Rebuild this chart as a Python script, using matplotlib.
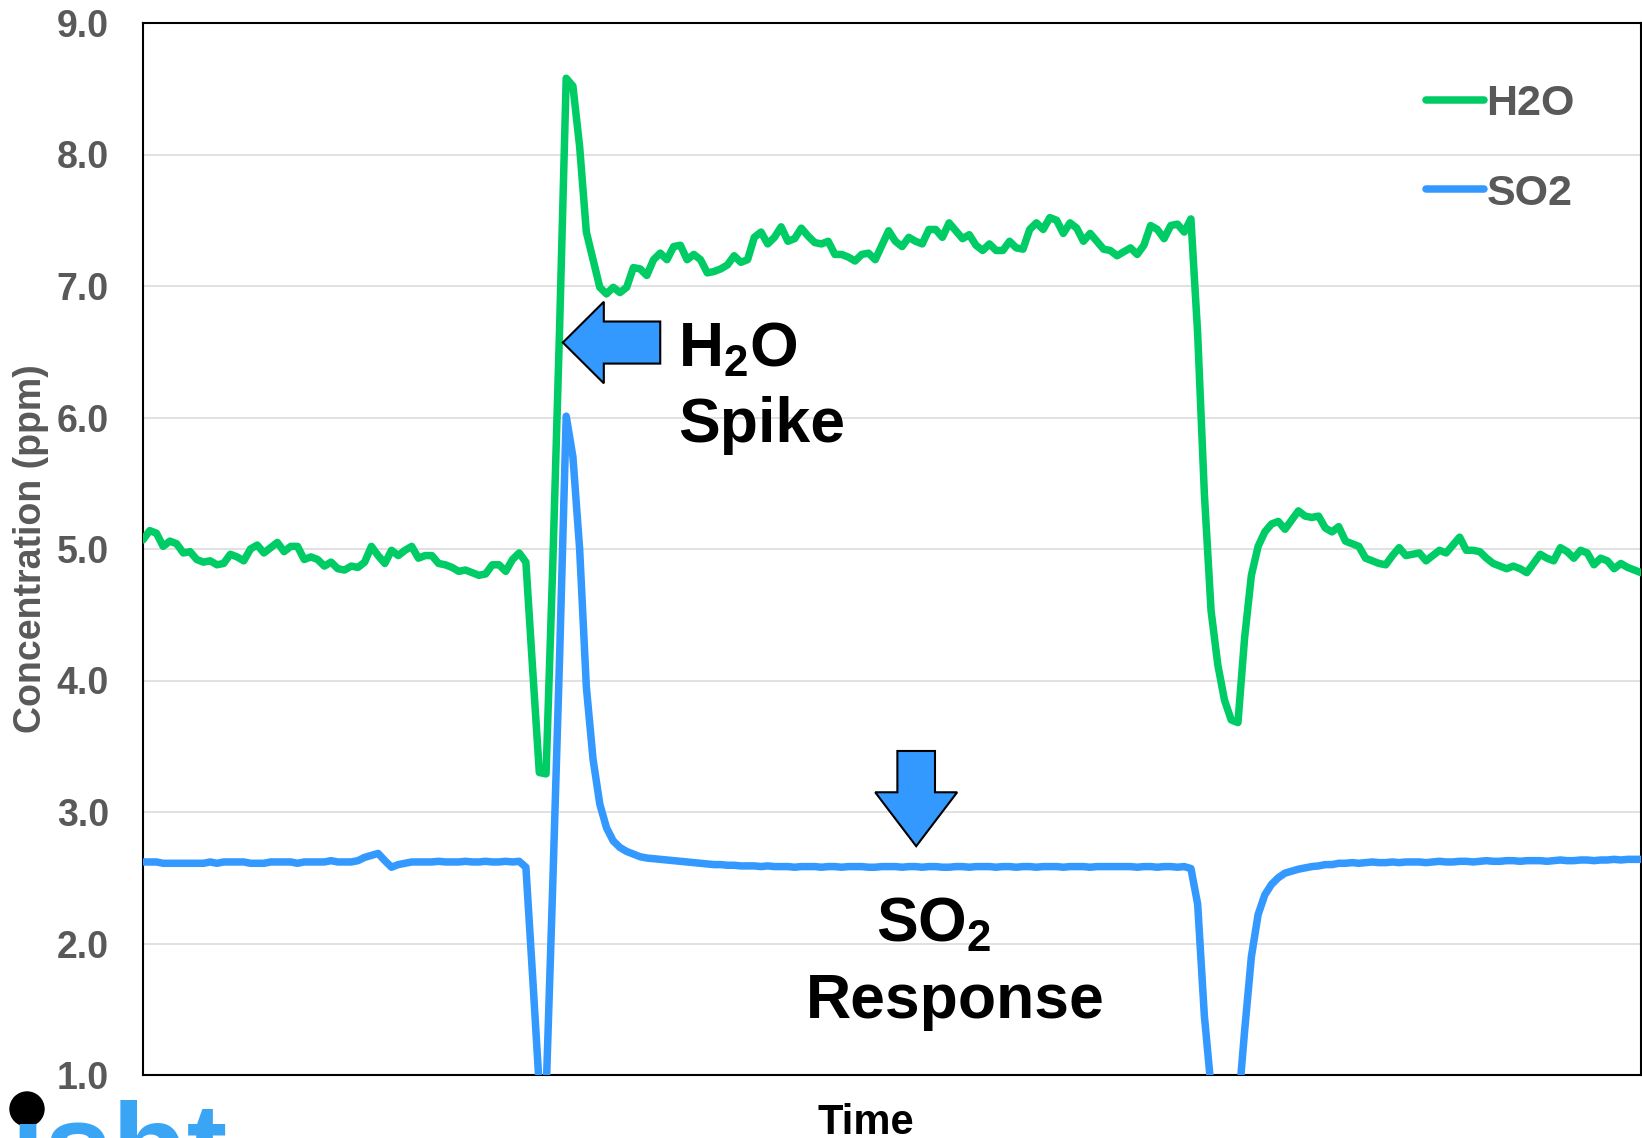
import numpy as np
import matplotlib
matplotlib.use('Agg')
import matplotlib.pyplot as plt
from matplotlib.patches import FancyArrow, Circle

plt.rcParams['font.family'] = ['Liberation Sans', 'DejaVu Sans']
plt.rcParams['mathtext.fontset'] = 'custom'
plt.rcParams['mathtext.bf'] = 'Liberation Sans:bold'
plt.rcParams['mathtext.rm'] = 'Liberation Sans:bold'

# H2O concentration (ppm), one value per sample
h2o = [5.07, 5.14, 5.12, 5.02, 5.06, 5.04, 4.97, 4.98, 4.92, 4.90,
       4.91, 4.88, 4.89, 4.96, 4.94, 4.91, 5.00, 5.03, 4.97, 5.01,
       5.05, 4.98, 5.02, 5.02, 4.92, 4.94, 4.92, 4.87, 4.90, 4.85,
       4.84, 4.87, 4.86, 4.90, 5.02, 4.95, 4.89, 4.99, 4.95, 4.99,
       5.02, 4.93, 4.95, 4.95, 4.89, 4.88, 4.86, 4.83, 4.84, 4.82,
       4.80, 4.81, 4.88, 4.88, 4.83, 4.92, 4.97, 4.90,
       4.09, 3.30, 3.29, 4.88, 6.65, 8.58, 8.52, 8.06, 7.41, 7.20, 6.99, 6.94,
       6.99, 6.95, 6.99, 7.14, 7.13, 7.08, 7.20, 7.25, 7.20, 7.30,
       7.31, 7.20, 7.24, 7.20, 7.10, 7.11, 7.13, 7.16, 7.23, 7.18,
       7.20, 7.37, 7.41, 7.32, 7.37, 7.45, 7.34, 7.36, 7.44, 7.38,
       7.33, 7.32, 7.34, 7.24, 7.24, 7.22, 7.19, 7.24, 7.25, 7.20,
       7.31, 7.42, 7.34, 7.30, 7.37, 7.34, 7.32, 7.43, 7.43, 7.37,
       7.48, 7.42, 7.36, 7.39, 7.31, 7.27, 7.32, 7.27, 7.27, 7.34,
       7.29, 7.28, 7.43, 7.48, 7.43, 7.52, 7.50, 7.40, 7.48, 7.44,
       7.34, 7.40, 7.34, 7.28, 7.27, 7.23, 7.26, 7.29, 7.24, 7.31,
       7.46, 7.43, 7.36, 7.46, 7.47, 7.41, 7.51,
       6.64, 5.42, 4.53, 4.12, 3.85, 3.70, 3.68, 4.33, 4.80, 5.02,
       5.13, 5.19, 5.21, 5.15, 5.22, 5.29, 5.25, 5.24, 5.25, 5.16,
       5.13, 5.17, 5.06, 5.04, 5.02, 4.93, 4.91, 4.89, 4.88,
       4.95, 5.01, 4.95, 4.96, 4.97, 4.91, 4.95, 4.99, 4.97, 5.03,
       5.09, 4.99, 4.99, 4.98, 4.93, 4.89, 4.87, 4.85, 4.87, 4.85,
       4.82, 4.89, 4.96, 4.93, 4.91, 5.01, 4.98, 4.93, 4.99, 4.97,
       4.88, 4.93, 4.91, 4.85, 4.89, 4.86, 4.84, 4.82]

# SO2 concentration (ppm)
so2 = [2.62, 2.62, 2.62, 2.61, 2.61, 2.61, 2.61, 2.61, 2.61, 2.61,
       2.62, 2.61, 2.62, 2.62, 2.62, 2.62, 2.61, 2.61, 2.61, 2.62,
       2.62, 2.62, 2.62, 2.61, 2.62, 2.62, 2.62, 2.62, 2.63, 2.62,
       2.62, 2.62,
       2.63, 2.655, 2.67, 2.685, 2.63, 2.58, 2.60, 2.61, 2.62,
       2.62, 2.62, 2.62, 2.625, 2.62, 2.62, 2.62, 2.625, 2.62, 2.62,
       2.625, 2.62, 2.62, 2.625, 2.62, 2.625,
       2.58, 1.75, 0.90, 0.85, 2.45, 4.15, 6.01, 5.70, 5.00, 3.95,
       3.40, 3.06, 2.88, 2.78, 2.73, 2.70, 2.68, 2.66, 2.65, 2.645,
       2.64, 2.635, 2.63, 2.625, 2.62, 2.615, 2.61, 2.605, 2.60, 2.60,
       2.595, 2.595, 2.59, 2.59, 2.59, 2.585, 2.59, 2.585, 2.585, 2.585,
       2.58, 2.585, 2.585, 2.585, 2.58, 2.585, 2.585, 2.58, 2.585, 2.585,
       2.585, 2.58, 2.58, 2.585, 2.585, 2.585, 2.58, 2.585, 2.585, 2.58,
       2.585, 2.585, 2.58, 2.58, 2.585, 2.585, 2.58, 2.585, 2.585, 2.585,
       2.58, 2.585, 2.585, 2.58, 2.585, 2.585, 2.58, 2.585, 2.585, 2.585,
       2.58, 2.585, 2.585, 2.585, 2.58, 2.585, 2.585, 2.585, 2.585, 2.585,
       2.585, 2.58, 2.585, 2.585, 2.58, 2.585, 2.585, 2.58, 2.585,
       2.57, 2.30, 1.45, 0.90, 0.60, 0.50, 0.50, 0.73, 1.34, 1.90,
       2.22, 2.37, 2.45, 2.50, 2.535, 2.55, 2.565, 2.575, 2.585, 2.59,
       2.60, 2.60, 2.61, 2.61, 2.615, 2.61, 2.615, 2.62, 2.615, 2.615,
       2.62, 2.615, 2.62, 2.62, 2.62, 2.615, 2.62, 2.625, 2.62, 2.62,
       2.625, 2.625, 2.62, 2.625, 2.63, 2.625, 2.625, 2.63, 2.63, 2.625,
       2.63, 2.63, 2.63, 2.625, 2.63, 2.635, 2.63, 2.63, 2.635, 2.635,
       2.63, 2.635, 2.635, 2.64, 2.635, 2.64, 2.64, 2.64]

yticks = [1, 2, 3, 4, 5, 6, 7, 8, 9]
ytick_labels = ['1.0', '2.0', '3.0', '4.0', '5.0', '6.0', '7.0', '8.0', '9.0']

green = '#00CC66'
blue = '#3399FF'
grey = '#595959'

t = np.arange(len(h2o))

fig = plt.figure(figsize=(16.42, 11.38), dpi=100)
ax = fig.add_axes([143 / 1642, 63 / 1138, 1498 / 1642, 1052 / 1138])

ax.plot(t, h2o, color=green, lw=5.4, solid_joinstyle='round',
        solid_capstyle='round', label='H2O', zorder=3)
ax.plot(t, so2, color=blue, lw=5.4, solid_joinstyle='round',
        solid_capstyle='round', label='SO2', zorder=3)

ax.set_xlim(0, len(t) - 1)
ax.set_ylim(1, 9)
ax.set_yticks(yticks)
ax.set_yticklabels(ytick_labels, fontweight='bold')
ax.set_xticks([])
ax.tick_params(axis='y', length=0, pad=24.5, labelsize=27, labelcolor=grey)
ax.grid(axis='y', color='#D9D9D9', lw=1.1)
ax.set_axisbelow(True)
for s in ax.spines.values():
    s.set_linewidth(1.5)
    s.set_color('black')

ax.set_ylabel('Concentration (ppm)', fontsize=27, fontweight='bold',
              color=grey, va='center')
ax.yaxis.set_label_coords(-0.0748, 0.5)
ax.set_xlabel('Time', fontsize=30, fontweight='bold', color='black')
ax.xaxis.set_label_coords(0.4826, -0.0266)

leg = ax.legend(loc='upper left', bbox_to_anchor=(1426 / 1642, 1 - 84 / 1138),
                bbox_transform=fig.transFigure, frameon=False,
                prop={'size': 31, 'weight': 'bold'}, handlelength=1.35,
                handletextpad=0.05, labelspacing=1.15, borderpad=0,
                borderaxespad=0)
for txt in leg.get_texts():
    txt.set_color(grey)

# callout arrows
ax.add_patch(FancyArrow(77.0, 6.57, -14.5, 0, width=0.32, head_width=0.62,
                        head_length=6.1, length_includes_head=True,
                        fc=blue, ec='black', lw=1.5, zorder=5))
ax.add_patch(FancyArrow(115.1, 3.464, 0, -0.724, width=5.6, head_width=12.2,
                        head_length=0.41, length_includes_head=True,
                        fc=blue, ec='black', lw=1.5, zorder=5))

ax.text(79.65, 6.384, r'H$_\mathbf{2}$O', fontsize=45, fontweight='bold',
        va='baseline', ha='left', zorder=6)
ax.text(79.65, 5.814, 'Spike', fontsize=45, fontweight='bold',
        va='baseline', ha='left', zorder=6)
ax.text(109.1, 2.011, r'SO$_\mathbf{2}$', fontsize=45, fontweight='bold',
        va='baseline', ha='left', zorder=6)
ax.text(98.7, 1.43, 'Response', fontsize=45, fontweight='bold',
        va='baseline', ha='left', zorder=6)

# logo, cut by the bottom edge
fig.text(10 / 1642, 1 - 1100 / 1138, '\u0131sbt', fontsize=88,
         fontweight='bold', color='#3BA5F5', va='top', ha='left')
fig.add_artist(Circle((0.27, 0.29), 0.17, transform=fig.dpi_scale_trans,
                      color='black'))

fig.savefig('out.png', dpi=100)
